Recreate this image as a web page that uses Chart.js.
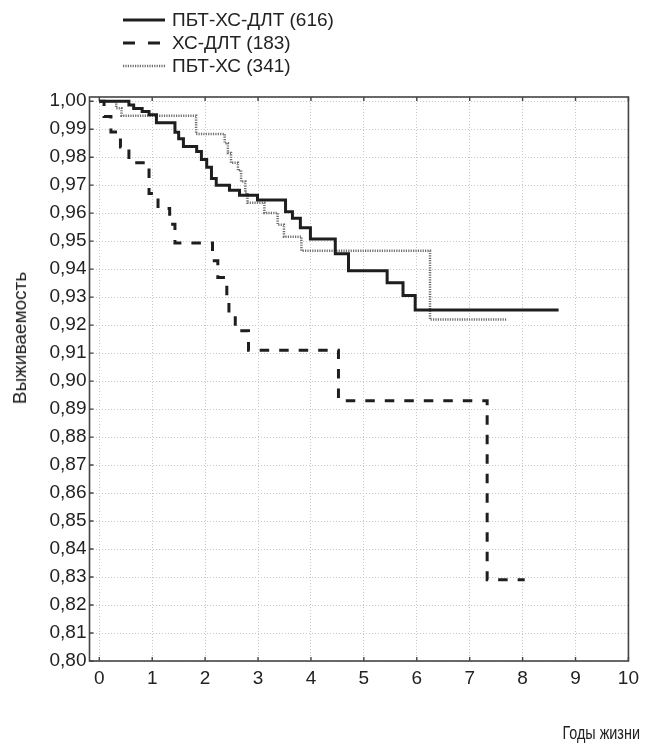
<!DOCTYPE html>
<html>
<head>
<meta charset="utf-8">
<script src="https://cdn.jsdelivr.net/npm/chart.js@4.4.1/dist/chart.umd.min.js"></script>
<style>
  body { margin: 0; background: #fff; font-family: "Liberation Sans", Arial, sans-serif; }
  #wrap { position: relative; width: 645px; height: 749px; }
  #legend { position: absolute; left: 123px; top: 8px; font-size: 19px; color: #222; }
  .row { height: 23px; display: flex; align-items: center; }
  .row svg { margin-right: 7px; }
  #ytitle { position: absolute; left: 20px; top: 338px; transform: translate(-50%, -50%) rotate(-90deg);
            font-size: 19px; white-space: nowrap; color: #222; }
  #xtitle { position: absolute; right: 5px; top: 723px; font-size: 18px; white-space: nowrap; color: #222;
            transform: scaleX(0.8); transform-origin: right center; }
</style>
</head>
<body>
<div id="wrap">
  <canvas id="canvas"></canvas>
  <div id="legend"></div>
  <div id="ytitle">Выживаемость</div>
  <div id="xtitle">Годы жизни</div>
</div>
<script>
// Kaplan-Meier curves, values (time in years, survival)
var seriesNames = ['ПБТ-ХС-ДЛТ (616)', 'ХС-ДЛТ (183)', 'ПБТ-ХС (341)'];

var solidT = [0, 0.56, 0.65, 0.81, 0.94, 1.08, 1.43, 1.50, 1.59, 1.84, 1.93, 2.03, 2.12, 2.21, 2.46, 2.65, 2.99,
              3.52, 3.65, 3.80, 3.99, 4.46, 4.71, 5.44, 5.74, 5.97, 8.68];
var solidS = [1.000, 0.9986, 0.9974, 0.9963, 0.9952, 0.9923, 0.9889, 0.9866, 0.9838, 0.982, 0.9792, 0.9764, 0.9724,
              0.970, 0.9682, 0.9664, 0.9647, 0.9605, 0.9582, 0.9548, 0.9508, 0.9455, 0.9394, 0.9351, 0.9306, 0.9254, 0.9254];

var dashT = [0, 0.09, 0.22, 0.40, 0.56, 0.94, 1.11, 1.33, 1.43, 2.14, 2.24, 2.41, 2.45, 2.57, 2.82, 4.52, 7.33, 8.04];
var dashS = [1.000, 0.9945, 0.989, 0.9836, 0.978, 0.967, 0.9617, 0.956, 0.9493, 0.943, 0.937, 0.9305, 0.924, 0.918,
             0.911, 0.893, 0.829, 0.829];

var dotT = [0, 0.32, 0.42, 1.83, 2.37, 2.43, 2.49, 2.62, 2.68, 2.76, 2.80, 3.12, 3.37, 3.49, 3.82, 6.25, 7.71];
var dotS = [1.000, 0.9975, 0.9948, 0.9883, 0.985, 0.9815, 0.978, 0.9753, 0.9713, 0.9673, 0.9637, 0.9601, 0.9559,
            0.9516, 0.9466, 0.922, 0.922];

var xTicks = [0, 1, 2, 3, 4, 5, 6, 7, 8, 9, 10];
var yTicks = [0.80, 0.81, 0.82, 0.83, 0.84, 0.85, 0.86, 0.87, 0.88, 0.89, 0.90,
              0.91, 0.92, 0.93, 0.94, 0.95, 0.96, 0.97, 0.98, 0.99, 1.00];

function pts(t, s) {
    return t.map(function(v, i) { return {x: v, y: s[i]}; });
}

var lineStyles = [
    {color: '#1e1e1e', width: 3, dash: []},
    {color: '#1e1e1e', width: 3, dash: [9.5, 10]},
    {color: '#6e6e6e', width: 2.5, dash: [1.2, 1.2]}
];

// frame + inward ticks
var frame = {
    id: 'frame',
    beforeDatasetsDraw: function(chart) {
        var ctx = chart.ctx, a = chart.chartArea, x = chart.scales.x, y = chart.scales.y;
        ctx.save();
        ctx.strokeStyle = '#444';
        ctx.lineWidth = 1.6;
        ctx.strokeRect(a.left, a.top, a.right - a.left, a.bottom - a.top);
        ctx.lineWidth = 1.4;
        ctx.beginPath();
        x.ticks.forEach(function(t) {
            var px = x.getPixelForValue(t.value);
            ctx.moveTo(px, a.bottom); ctx.lineTo(px, a.bottom - 4);
            ctx.moveTo(px, a.top); ctx.lineTo(px, a.top + 4);
        });
        y.ticks.forEach(function(t) {
            var py = y.getPixelForValue(t.value);
            ctx.moveTo(a.left, py); ctx.lineTo(a.left + 4, py);
        });
        ctx.stroke();
        ctx.restore();
    }
};

Chart.defaults.font.family = '"Liberation Sans", Arial, sans-serif';
Chart.defaults.font.size = 19;
Chart.defaults.color = '#222';

var ctx = document.getElementById('canvas').getContext('2d');
var myChart = new Chart(ctx, {
    type: 'line',
    data: {
        datasets: [
            {label: seriesNames[0], data: pts(solidT, solidS)},
            {label: seriesNames[1], data: pts(dashT, dashS)},
            {label: seriesNames[2], data: pts(dotT, dotS)}
        ].map(function(d, i) {
            d.borderColor = lineStyles[i].color;
            d.borderWidth = lineStyles[i].width;
            d.borderDash = lineStyles[i].dash;
            d.stepped = true;
            d.pointRadius = 0;
            d.fill = false;
            return d;
        })
    },
    options: {
        responsive: true,
        maintainAspectRatio: false,
        animation: false,
        layout: {padding: {top: 97, right: 6, left: 0, bottom: 0}},
        plugins: {legend: {display: false}, tooltip: {enabled: false}},
        scales: {
            x: {
                type: 'linear',
                min: -0.185,
                max: 10,
                afterBuildTicks: function(s) { s.ticks = xTicks.map(function(v) { return {value: v}; }); },
                afterFit: function(s) { s.height = 88; },
                ticks: {padding: 6, maxRotation: 0, autoSkip: false},
                grid: {color: '#c8c8c8', lineWidth: 1, drawTicks: false},
                border: {display: false, dash: [1, 2]}
            },
            y: {
                min: 0.80,
                max: 1.0015,
                afterBuildTicks: function(s) { s.ticks = yTicks.map(function(v) { return {value: v}; }); },
                afterFit: function(s) { s.width = 89.5; },
                ticks: {
                    padding: 3,
                    autoSkip: false,
                    callback: function(v) { return v.toFixed(2).replace('.', ','); }
                },
                grid: {color: '#c8c8c8', lineWidth: 1, drawTicks: false},
                border: {display: false, dash: [1, 2]}
            }
        }
    },
    plugins: [frame]
});

// legend as html rows
var legend = document.getElementById('legend');
seriesNames.forEach(function(name, i) {
    var st = lineStyles[i];
    var row = document.createElement('div');
    row.className = 'row';
    row.innerHTML = '<svg width="42" height="10"><line x1="0" y1="5" x2="42" y2="5" stroke="' + st.color +
        '" stroke-width="' + st.width + '" stroke-dasharray="' + (i == 1 ? '12,13' : st.dash.join(',')) + '"/></svg>' +
        '<span>' + name + '</span>';
    legend.appendChild(row);
});
</script>
</body>
</html>
